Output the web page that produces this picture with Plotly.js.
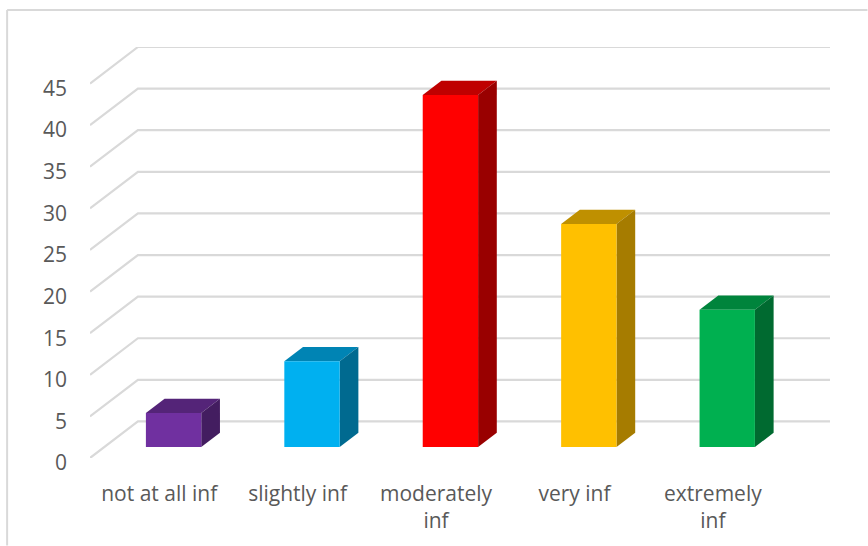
<!DOCTYPE html>
<html>
<head>
<meta charset="utf-8">
<title>Influence ratings</title>
<script src="https://cdn.plot.ly/plotly-3.0.1.min.js"></script>
<style>html,body{margin:0;padding:0;background:#fff}#chart{width:868px;height:546px}</style>
</head>
<body>
<div id="chart"></div>
<script>
// Chart data
const categories = ['not at all inf', 'slightly inf', 'moderately<br>inf', 'very inf', 'extremely<br>inf'];
const values = [4.1, 10.3, 42.3, 26.8, 16.5];
const gridValues = [0, 5, 10, 15, 20, 25, 30, 35, 40, 45];

// Face colours of each column
const frontColors = ['#7030A0', '#00B0F0', '#FF0000', '#FFC000', '#00B050'];
const topColors = ['#542478', '#0084B4', '#BF0000', '#BF9000', '#00843C'];
const sideColors = ['#431D60', '#006A90', '#990000', '#A67C00', '#006A30'];

// Oblique projection: moving from the front plane (0) to the back wall (1)
// shifts a point right and up by these amounts in axis units.
const DEPTH_X = 0.3463;
const DEPTH_Y = 4.39;
const BAR_NEAR = 0.30;
const BAR_FAR = 0.69;
const BAR_HALF = 0.2;

const project = (x, v, d) => [x + d * DEPTH_X, v + d * DEPTH_Y];

function poly(points, color) {
  const p = points.map(q => project(q[0], q[1], q[2]));
  return {
    type: 'scatter', mode: 'lines', fill: 'toself', fillcolor: color,
    x: p.map(q => q[0]).concat(p[0][0]), y: p.map(q => q[1]).concat(p[0][1]),
    line: {width: 0, color: color}, hoverinfo: 'skip', showlegend: false
  };
}

const traces = [];

// Floor-to-wall gridlines running along the side wall and then the back wall
gridValues.forEach(v => {
  const a = project(-0.5, v, 0), b = project(-0.5, v, 1), c = project(4.5, v, 1);
  traces.push({
    type: 'scatter', mode: 'lines',
    x: [a[0], b[0], c[0]], y: [a[1], b[1], c[1]],
    line: {color: '#D9D9D9', width: 2.2}, hoverinfo: 'skip', showlegend: false
  });
});

// Each column is three faces: top, right side and front
values.forEach((v, i) => {
  const l = i - BAR_HALF, r = i + BAR_HALF;
  traces.push(poly([[l, v, BAR_NEAR], [r, v, BAR_NEAR], [r, v, BAR_FAR], [l, v, BAR_FAR]], topColors[i]));
  traces.push(poly([[r, 0, BAR_NEAR], [r, 0, BAR_FAR], [r, v, BAR_FAR], [r, v, BAR_NEAR]], sideColors[i]));
  traces.push(poly([[l, 0, BAR_NEAR], [r, 0, BAR_NEAR], [r, v, BAR_NEAR], [l, v, BAR_NEAR]], frontColors[i]));
});

const M = {l: 89.5, r: 37.5, t: 46.5, b: 87.7};
const W = 868, H = 546;
const pw = W - M.l - M.r, ph = H - M.t - M.b;
const px = x => (x - M.l) / pw;
const py = y => 1 - (y - M.t) / ph;
const border = {color: '#D9D9D9', width: 2};
const textFont = {family: '"Open Sans", sans-serif', size: 21, color: '#595959'};

const layout = {
  width: W, height: H, margin: M,
  paper_bgcolor: '#FFFFFF', plot_bgcolor: 'rgba(0,0,0,0)',
  showlegend: false,
  xaxis: {
    type: 'linear', range: [-0.5, 4.5 + DEPTH_X], showgrid: false, zeroline: false, showline: false,
    tickmode: 'array', tickvals: categories.map((_, i) => i), ticktext: categories,
    tickfont: textFont, ticks: '', fixedrange: true, ticklabelstandoff: 21, tickangle: 0
  },
  yaxis: {
    type: 'linear', range: [0, 45 + DEPTH_Y], showgrid: false, zeroline: false, showline: false,
    tickmode: 'array', tickvals: gridValues, ticktext: gridValues.map(String),
    tickfont: textFont, ticks: '', fixedrange: true, ticklabelstandoff: 22, ticklabelshift: 5
  },
  shapes: [
    {type: 'line', xref: 'paper', yref: 'paper', x0: px(6.5), x1: px(868), y0: py(9.5), y1: py(9.5), line: border},
    {type: 'line', xref: 'paper', yref: 'paper', x0: px(6.5), x1: px(6.5), y0: py(9.5), y1: py(546), line: border}
  ]
};

Plotly.newPlot('chart', traces, layout, {displayModeBar: false, staticPlot: true});
</script>
</body>
</html>
